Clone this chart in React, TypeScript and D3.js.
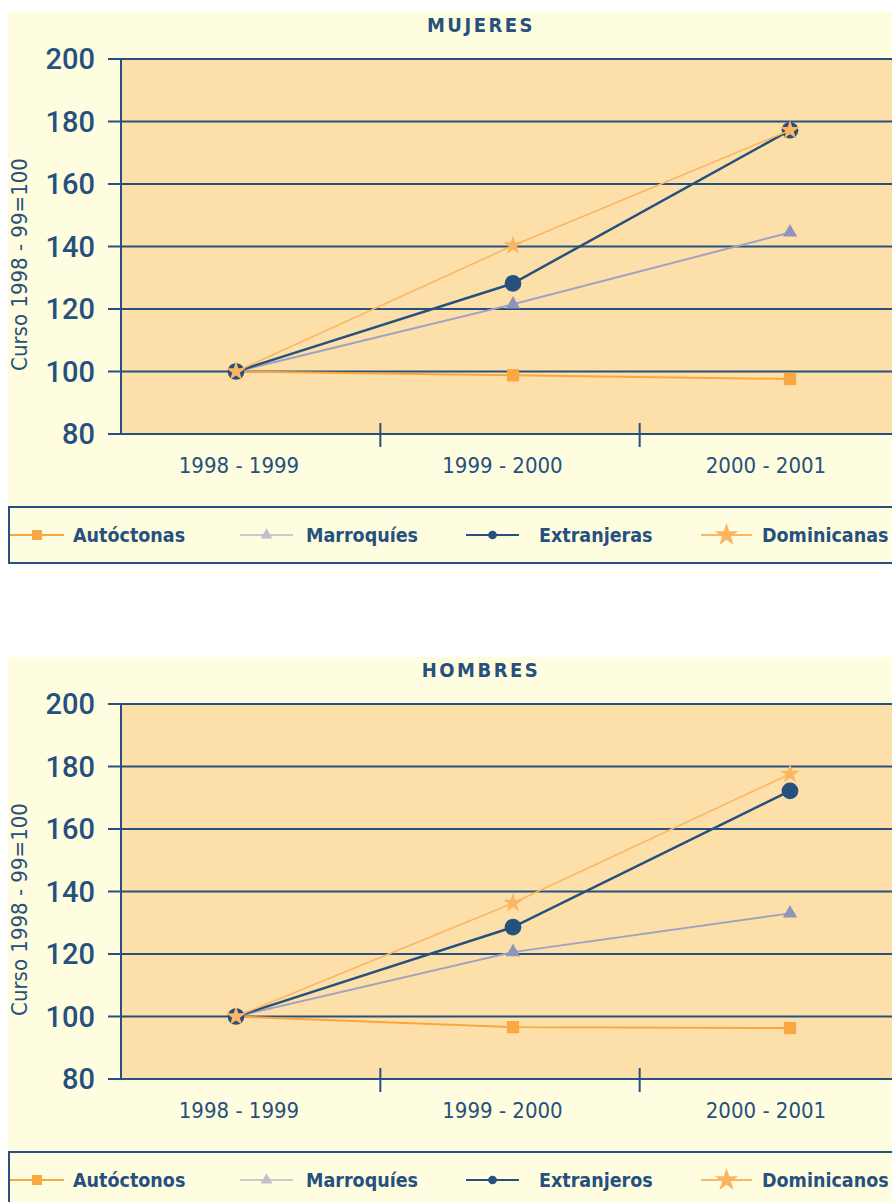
import React from "react";
import * as d3 from "d3";

const categories = ["1998 - 1999", "1999 - 2000", "2000 - 2001"];
const yTicks = [80, 100, 120, 140, 160, 180, 200];
const yAxisTitle = "Curso 1998 - 99=100";

const mujeresLabels = ["Autóctonas", "Marroquíes", "Extranjeras", "Dominicanas"];
const mujeresAutoctonas = [100, 98.8, 97.6];
const mujeresMarroquies = [100, 121.5, 144.5];
const mujeresExtranjeras = [100, 128.2, 177.2];
const mujeresDominicanas = [100, 140.3, 177.2];

const hombresLabels = ["Autóctonos", "Marroquíes", "Extranjeros", "Dominicanos"];
const hombresAutoctonos = [100, 96.6, 96.3];
const hombresMarroquies = [100, 120.6, 133.0];
const hombresExtranjeros = [100, 128.6, 172.2];
const hombresDominicanos = [100, 136.3, 177.6];

const DARK = "#26507d";
const PANEL = "#fffde0";
const PLOT = "#fde0a9";

type SeriesStyle = {
  stroke: string;
  width: number;
  marker: d3.SymbolType;
  size: number;
  fill: string;
  legendStroke: string;
  legendFill: string;
  legendSize: number;
};

const styles: SeriesStyle[] = [
  { stroke: "#f8a642", width: 2, marker: d3.symbolSquare, size: 150, fill: "#f9a842", legendStroke: "#f8a642", legendFill: "#f9a842", legendSize: 100 },
  { stroke: "#a0a2c2", width: 2, marker: d3.symbolTriangle, size: 90, fill: "#8f95ba", legendStroke: "#cfc6d0", legendFill: "#c6bccb", legendSize: 60 },
  { stroke: DARK, width: 2.5, marker: d3.symbolCircle, size: 220, fill: DARK, legendStroke: DARK, legendFill: DARK, legendSize: 60 },
  { stroke: "#fbb662", width: 1.6, marker: d3.symbolStar, size: 120, fill: "#fbb662", legendStroke: "#fbb662", legendFill: "#fbb662", legendSize: 170 },
];

const FONT = "'DejaVu Sans Condensed', 'DejaVu Sans', sans-serif";

function Chart({ top, title, labels, series }: { top: number; title: string; labels: string[]; series: number[][] }) {
  const plotLeft = 121;
  const plotRight = 892;
  const plotTop = top + 47;
  const plotBottom = top + 422;

  const y = d3.scaleLinear().domain([80, 200]).range([plotBottom, plotTop]);
  const xMarks = d3.scalePoint<string>().domain(categories).range([236, 790]);
  const xLabels = d3.scalePoint<string>().domain(categories).range([239, 766]);
  const xBand = d3.scaleBand<string>().domain(categories).range([plotLeft, 899]);

  const line = d3
    .line<number>()
    .x((_, i) => xMarks(categories[i]) as number)
    .y((d) => y(d));

  const legendTop = top + 495;
  const legendY = legendTop + 28;
  const legendItems = [
    { lineX: [10, 64], textX: 73 },
    { lineX: [240, 293], textX: 306 },
    { lineX: [466, 519], textX: 539 },
    { lineX: [701, 752], textX: 762 },
  ];

  return (
    <g>
      <rect x={8} y={top} width={892} height={552} fill={PANEL} />
      <text x={481} y={top + 20} textAnchor="middle" fontFamily={FONT} fontWeight="bold" fontSize={20} letterSpacing={2.5} fill={DARK}>
        {title}
      </text>
      <rect x={plotLeft} y={plotTop} width={plotRight - plotLeft} height={plotBottom - plotTop} fill={PLOT} />
      {yTicks.map((t) => (
        <g key={t}>
          <line x1={108} x2={plotRight} y1={y(t)} y2={y(t)} stroke={DARK} strokeWidth={2} />
          <text x={95} y={y(t)} dy="0.36em" textAnchor="end" fontFamily="Roboto, sans-serif" fontWeight={500} fontSize={29} fill={DARK}>
            {t}
          </text>
        </g>
      ))}
      <line x1={plotLeft} x2={plotLeft} y1={plotTop} y2={plotBottom} stroke={DARK} strokeWidth={2} />
      {categories.slice(1).map((c) => (
        <line key={c} x1={xBand(c)} x2={xBand(c)} y1={plotBottom - 11} y2={plotBottom + 13} stroke={DARK} strokeWidth={2} />
      ))}
      {categories.map((c) => (
        <text key={c} x={xLabels(c)} y={plotBottom + 31} dy="0.36em" textAnchor="middle" fontFamily={FONT} fontSize={22} fill={DARK}>
          {c}
        </text>
      ))}
      <text
        transform={`translate(${19},${(plotTop + plotBottom) / 2 + 18}) rotate(-90)`}
        textAnchor="middle"
        dy="0.36em"
        fontFamily={FONT}
        fontSize={22}
        fill={DARK}
      >
        {yAxisTitle}
      </text>
      {series.map((vals, si) => (
        <g key={si}>
          <path d={line(vals) || ""} fill="none" stroke={styles[si].stroke} strokeWidth={styles[si].width} />
          {vals.map((v, i) => (
            <path
              key={i}
              transform={`translate(${xMarks(categories[i])},${y(v)})`}
              d={d3.symbol().type(styles[si].marker).size(styles[si].size)() || ""}
              fill={styles[si].fill}
            />
          ))}
        </g>
      ))}
      <rect x={9} y={legendTop} width={890} height={56} fill={PANEL} stroke={DARK} strokeWidth={2} />
      {labels.map((lab, i) => {
        const it = legendItems[i];
        const mx = (it.lineX[0] + it.lineX[1]) / 2;
        return (
          <g key={lab}>
            <line x1={it.lineX[0]} x2={it.lineX[1]} y1={legendY} y2={legendY} stroke={styles[i].legendStroke} strokeWidth={2} />
            <path
              transform={`translate(${mx},${legendY})`}
              d={d3.symbol().type(styles[i].marker).size(styles[i].legendSize)() || ""}
              fill={styles[i].legendFill}
            />
            <text x={it.textX} y={legendY} dy="0.36em" fontFamily={FONT} fontWeight="bold" fontSize={19.5} fill={DARK}>
              {lab}
            </text>
          </g>
        );
      })}
    </g>
  );
}

export default function App() {
  return (
    <div style={{ position: "absolute", left: 0, top: 0 }}>
      <svg width={892} height={1202} style={{ display: "block" }}>
        <rect width={892} height={1202} fill="#ffffff" />
        <Chart
          top={12}
          title="MUJERES"
          labels={mujeresLabels}
          series={[mujeresAutoctonas, mujeresMarroquies, mujeresExtranjeras, mujeresDominicanas]}
        />
        <Chart
          top={657}
          title="HOMBRES"
          labels={hombresLabels}
          series={[hombresAutoctonos, hombresMarroquies, hombresExtranjeros, hombresDominicanos]}
        />
      </svg>
    </div>
  );
}
